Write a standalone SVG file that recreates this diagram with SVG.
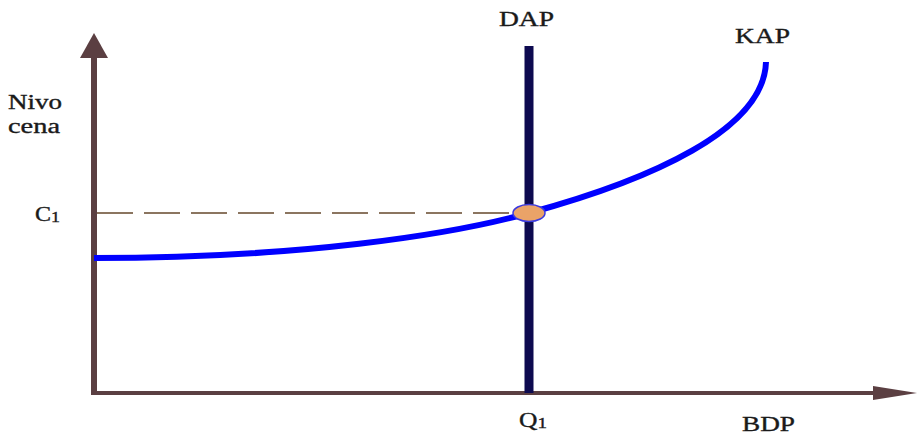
<svg xmlns="http://www.w3.org/2000/svg" width="918" height="435" viewBox="0 0 918 435">
<style>
.t{font-family:"Liberation Serif","Times New Roman",serif;font-size:20px;fill:#1a1a1a;stroke:#1a1a1a;stroke-width:0.35;}
.ax{stroke:#5b3f42;fill:none;}
</style>
<rect width="918" height="435" fill="#ffffff"/>
<g id="axes">
<line class="ax" x1="94" y1="393" x2="94" y2="52" stroke-width="6"/>
<polygon points="94,33 80,58 108,58" fill="#5b3f42"/>
<line class="ax" x1="91" y1="393" x2="878" y2="393" stroke-width="4"/>
<polygon points="917,393 873,386 873,400" fill="#5b3f42"/>
</g>
<g id="connectors">
<line x1="97" y1="213" x2="515" y2="213" stroke="#8b7560" stroke-width="2" stroke-dasharray="36,11"/>
<line id="DAP-line" x1="529" y1="46" x2="529" y2="393" stroke="#0d0a50" stroke-width="9"/>
<path id="KAP-curve" d="M94,258 C300,258 450,235 529,213 C650,180 764,130 766,62" stroke="#0000ff" stroke-width="6" fill="none"/>
</g>
<g id="point">
<ellipse cx="529" cy="213" rx="16" ry="8.5" fill="#eaa368" stroke="#3a3ae0" stroke-width="1.5"/>
</g>
<g id="labels">
<text class="t" x="8" y="109" textLength="54" lengthAdjust="spacingAndGlyphs">Nivo</text>
<text class="t" x="8" y="133" textLength="52" lengthAdjust="spacingAndGlyphs">cena</text>
<text class="t" x="35" y="221" font-size="21" textLength="25" lengthAdjust="spacingAndGlyphs">C<tspan font-size="15" dy="1">1</tspan></text>
<text class="t" x="499" y="26" textLength="55" lengthAdjust="spacingAndGlyphs">DAP</text>
<text class="t" x="735" y="43" textLength="55" lengthAdjust="spacingAndGlyphs">KAP</text>
<text class="t" x="519" y="427" font-size="21" textLength="28" lengthAdjust="spacingAndGlyphs">Q<tspan font-size="15" dy="1">1</tspan></text>
<text class="t" x="742" y="431" textLength="53" lengthAdjust="spacingAndGlyphs">BDP</text>
</g>
</svg>
